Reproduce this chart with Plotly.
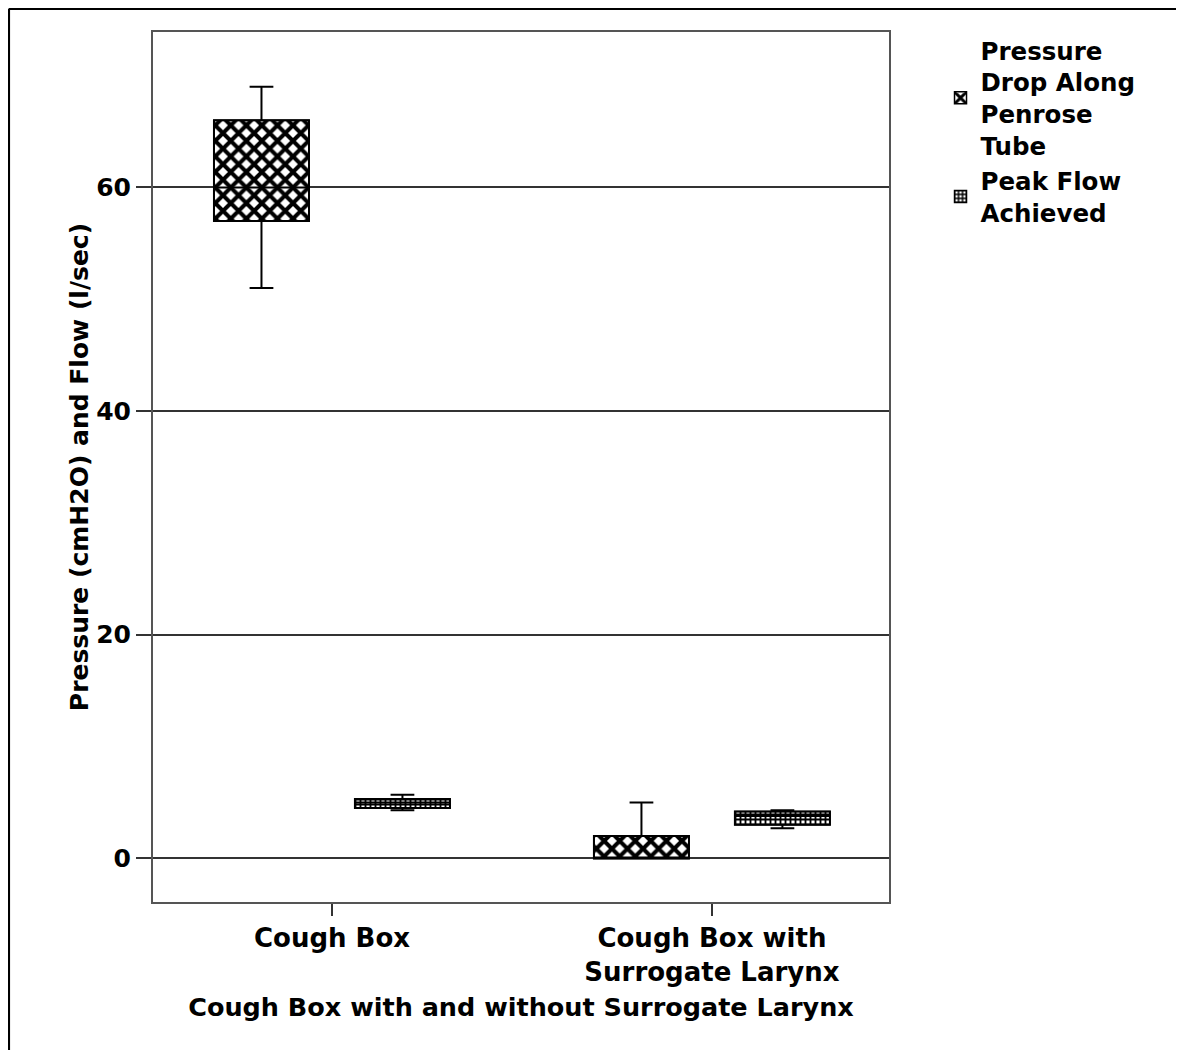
import plotly.graph_objects as go

# categories on the x axis
categories = ["Cough Box", "Cough Box with<br>Surrogate Larynx"]

# box statistics (cmH2O / l/sec)
pressure_low = [51, 0]
pressure_q1 = [57, 0]
pressure_median = [60, 0]
pressure_q3 = [66, 2]
pressure_high = [69, 5]

flow_low = [4.3, 2.7]
flow_q1 = [4.5, 3.0]
flow_median = [5.0, 3.8]
flow_q3 = [5.3, 4.2]
flow_high = [5.7, 4.3]

y_ticks = [0, 20, 40, 60]

FONT = "DejaVu Sans"

fig = go.Figure()

# patterned box bodies (Box traces can't take a fill pattern, so a bar sits under each box)
fig.add_trace(go.Bar(
    x=categories,
    y=[h - l for h, l in zip(pressure_q3, pressure_q1)],
    base=pressure_q1,
    name="Pressure<br>Drop Along<br>Penrose<br>Tube",
    marker=dict(color="white", line=dict(color="black", width=1.5),
                pattern=dict(shape="x", fgcolor="black", bgcolor="white",
                             fgopacity=1, size=11, solidity=0.6)),
    offsetgroup="p",
))
fig.add_trace(go.Bar(
    x=categories,
    y=[h - l for h, l in zip(flow_q3, flow_q1)],
    base=flow_q1,
    name="Peak Flow<br>Achieved",
    marker=dict(color="white", line=dict(color="black", width=1.5),
                pattern=dict(shape="+", fgcolor="black", bgcolor="white",
                             fgopacity=1, size=5, solidity=0.6)),
    offsetgroup="f",
))

# whiskers, medians and outlines
fig.add_trace(go.Box(
    x=categories, q1=pressure_q1, median=pressure_median, q3=pressure_q3,
    lowerfence=pressure_low, upperfence=pressure_high,
    fillcolor="rgba(0,0,0,0)", line=dict(color="black", width=2),
    whiskerwidth=0.25, boxpoints=False, showlegend=False, offsetgroup="p",
))
fig.add_trace(go.Box(
    x=categories, q1=flow_q1, median=flow_median, q3=flow_q3,
    lowerfence=flow_low, upperfence=flow_high,
    fillcolor="rgba(0,0,0,0)", line=dict(color="black", width=2),
    whiskerwidth=0.25, boxpoints=False, showlegend=False, offsetgroup="f",
))

fig.update_layout(
    width=1184, height=1050,
    margin=dict(l=145, r=303, t=24, b=156),
    paper_bgcolor="white", plot_bgcolor="white",
    font=dict(family=FONT, size=25, color="black", weight="bold"),
    barmode="group", bargap=0.258, bargroupgap=0.326,
    boxmode="group", boxgap=0.258, boxgroupgap=0.326,
    legend=dict(x=1.07, xanchor="left", y=1.005, yanchor="top",
                font=dict(family=FONT, size=24.5, color="black", weight="bold"),
                bgcolor="rgba(0,0,0,0)"),
    xaxis=dict(
        type="category", range=[-0.471, 1.466],
        showline=True, mirror=True, linecolor="#555555", linewidth=2,
        ticks="outside", ticklen=12, tickcolor="#333333", tickwidth=1.5,
        showgrid=False,
        tickfont=dict(family=FONT, size=26, weight="bold"),
        title=dict(text="Cough Box with and without Surrogate Larynx",
                   font=dict(family=FONT, size=25.5, weight="bold"), standoff=12),
    ),
    yaxis=dict(
        range=[-3.9, 73.9], tickvals=y_ticks,
        showline=True, mirror=True, linecolor="#555555", linewidth=2,
        ticks="outside", ticklen=15, tickcolor="#333333", tickwidth=1.5,
        showgrid=True, gridcolor="#333333", gridwidth=1.5, zeroline=False,
        tickfont=dict(family=FONT, size=25, weight="bold"),
        title=dict(text="Pressure (cmH2O) and Flow (l/sec)",
                   font=dict(family=FONT, size=25, weight="bold"), standoff=0),
    ),
    shapes=[
        dict(type="line", xref="paper", yref="paper", x0=-0.1959, x1=1.5,
             y0=1.0267, y1=1.0267, line=dict(color="black", width=2.5)),
        dict(type="line", xref="paper", yref="paper", x0=-0.1959, x1=-0.1959,
             y0=1.0267, y1=-0.3, line=dict(color="black", width=2.5)),
    ],
)

fig.write_html("out.html")
